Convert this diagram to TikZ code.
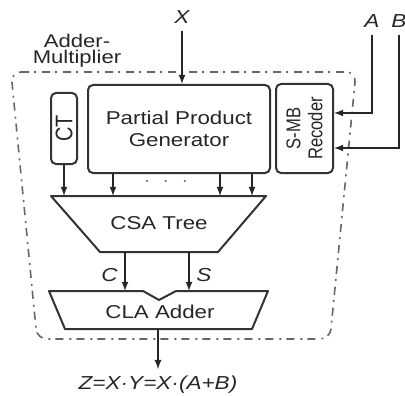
\documentclass[tikz,border=0pt]{standalone}
\usepackage{fontspec}
\setmainfont{Liberation Sans}[FakeStretch=1.2]
\newfontfamily\rotfont{Liberation Sans}[FakeStretch=0.83]
\usepackage{tikz}

\begin{document}
\begin{tikzpicture}[x=0.5pt, y=-0.5pt,
    box/.style={draw=black!80, line width=1pt, rounded corners=2.5pt, align=center, font=\fontsize{9.3}{11}\selectfont, text=black!85},
    blk/.style={draw=black!80, line width=1pt, line join=round},
    wire/.style={draw=black!85, line width=0.6pt, -latex},
    outline/.style={draw=black!60, line width=0.8pt, dash pattern=on 4pt off 2.5pt on 1pt off 3pt, rounded corners=5pt},
    sig/.style={font=\fontsize{9.4}{11}\selectfont\itshape, text=black!85}]
    \useasboundingbox (0,0) rectangle (405,395);
    % dash-dot frame
    \draw[outline] (11,72) -- (356,72) -- (330,339) -- (37,339) -- cycle;
    \node[align=center, font=\fontsize{9.2}{6.7}\selectfont, text=black!85] (title) at (77,51) {Adder-\\Multiplier};
    % blocks
    \node[box, minimum width=91pt, minimum height=44pt] (ppg) at (179,129) {Partial Product\\Generator};
    \node[box, minimum width=13pt, minimum height=35.5pt] (ct) at (64,128.5) {};
    \node[rotate=90, font=\rotfont\fontsize{12}{13}\selectfont, text=black!85] (ctlbl) at (ct) {CT};
    \node[box, minimum width=28.5pt, minimum height=44.5pt] (rec) at (304.5,128.5) {};
    \node[rotate=90, align=center, font=\rotfont\fontsize{10}{11}\selectfont, text=black!85] (reclbl) at (rec) {S-MB\\Recoder};
    \draw[blk] (51,196) coordinate (csatl) -- (266,196) -- (218,252) coordinate (csabr) -- (100,252) -- cycle;
    \node[font=\fontsize{9.3}{11}\selectfont, text=black!85] (csa) at (159,223) {CSA Tree};
    \draw[blk] (49,291) coordinate (clatl) -- (143,291) -- (159,300) -- (176,291) -- (268,291) -- (252,329) -- (65,329) -- cycle;
    \node[font=\fontsize{9.3}{11}\selectfont, text=black!85] (cla) at (160,312) {CLA Adder};
    % inputs
    \node[sig] (X) at (182,17) {X};
    \node[sig] (A) at (372,21) {A};
    \node[sig] (B) at (399,21) {B};
    \draw[wire] (X) -- (X |- ppg.north);
    \draw[wire] (A) |- ([yshift=7.75pt]rec.east);
    \draw[wire] (B) |- ([yshift=-9.75pt]rec.east);
    % partial products
    \coordinate (p1) at (113,196);
    \coordinate (p2) at (220,196);
    \coordinate (p3) at (252,196);
    \draw[wire] (ct.south) -- (ct.south |- csatl);
    \foreach \p in {p1,p2,p3}
        \draw[wire] (\p |- ppg.south) -- (\p);
    \node[text=black!60] (dots) at (166,182) {$\cdot\;\,\cdot\;\,\cdot$};
    % carry and sum
    \coordinate (cin) at (125,291);
    \coordinate (sin) at (189,291);
    \draw[wire] (cin |- csabr) -- (cin) node[pos=0.6, left, sig] (C) {C};
    \draw[wire] (sin |- csabr) -- (sin) node[pos=0.6, right, sig] (S) {S};
    % result
    \coordinate (clab) at (158,329);
    \node[sig] (Z) at (158,385) {Z=X·Y=X·(A+B)};
    \draw[wire] (clab) -- (Z.north);
\end{tikzpicture}
\end{document}
